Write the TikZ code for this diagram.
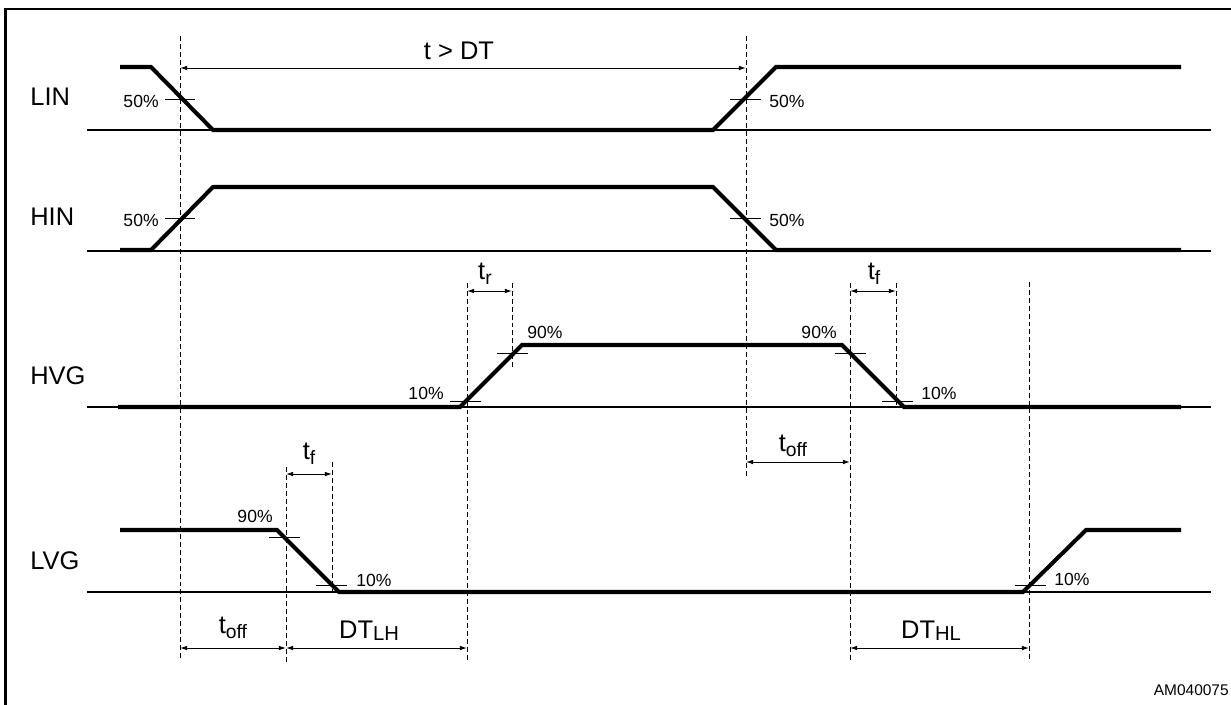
\documentclass[tikz,border=0pt]{standalone}
\usepackage{fontspec}
\setmainfont{Liberation Sans}
\usetikzlibrary{arrows.meta}

% subscripted time labels
\newcommand{\tsubs}[2]{#1\raisebox{-3pt}{\fontsize{11}{13}\selectfont #2}}
\newcommand{\dtsubs}[2]{#1\raisebox{-1.7pt}{\fontsize{11.5}{13}\selectfont #2}}

\begin{document}
\begin{tikzpicture}[
  x=0.02cm, y=-0.02cm,
  signal/.style={line width=2.3pt, line join=miter},
  axis/.style={line width=0.7pt},
  guide/.style={line width=0.55pt, dash pattern=on 2.8pt off 1.7pt},
  levtick/.style={line width=0.55pt},
  dim/.style={{Latex[length=4pt,width=2.6pt]}-{Latex[length=4pt,width=2.6pt]}, line width=0.55pt},
  signame/.style={font=\fontsize{14.5}{17}\selectfont, inner sep=0pt, anchor=base west},
  pct/.style={font=\fontsize{10}{12}\selectfont, inner sep=0pt},
  tlabel/.style={font=\fontsize{14.5}{17}\selectfont, inner sep=0pt, anchor=base}
]
\useasboundingbox (0,0) rectangle (1231,704);

% Frame
\draw[line width=1.2pt] (5.5,720) -- (5.5,9) -- (1240,9);

% Zero lines
\foreach \y in {130,251,407,592}
  \draw[axis] (87,\y) -- (1211,\y);

% Guide lines
\draw[guide] (180,36) -- (180,660);
\draw[guide] (746,36) -- (746,476);
\draw[guide] (467,283) -- (467,660);
\draw[guide] (512,283) -- (512,368);
\draw[guide] (850,283) -- (850,660);
\draw[guide] (896,283) -- (896,405);
\draw[guide] (286,467) -- (286,662);
\draw[guide] (332,462) -- (332,593);
\draw[guide] (1029,282) -- (1029,660);

% Signals
\draw[signal] (120,67) -- (151,67) -- (213,130) -- (713,130) -- (776,67) -- (1181,67);
\draw[signal] (120,250) -- (151,250) -- (213,187) -- (713,187) -- (776,250) -- (1181,250);
\draw[signal] (118,407) -- (460,407) -- (522,345) -- (842,345) -- (904,407) -- (1181,407);
\draw[signal] (120,530) -- (277,530) -- (339,592) -- (1023,592) -- (1086,530) -- (1181,530);

% Signal names
\node[signame] (lin) at (30,105) {LIN};
\node[signame] (hin) at (30,225) {HIN};
\node[signame] (hvg) at (30,384) {HVG};
\node[signame] (lvg) at (30,569) {LVG};

% Threshold ticks
\draw[levtick] (165,99) -- (195,99);
\draw[levtick] (730,99) -- (761,99);
\draw[levtick] (165,218) -- (195,218);
\draw[levtick] (730,218) -- (761,218);
\draw[levtick] (450,401) -- (481,401);
\draw[levtick] (497,353) -- (528,353);
\draw[levtick] (835,353) -- (866,353);
\draw[levtick] (882,401) -- (913,401);
\draw[levtick] (269,537) -- (300,537);
\draw[levtick] (316,585) -- (347,585);
\draw[levtick] (1015,585) -- (1046,585);

% Threshold labels
\node[pct, anchor=base east] (lin50a) at (159,107) {50\%};
\node[pct, anchor=base west] (lin50b) at (769,107) {50\%};
\node[pct, anchor=base east] (hin50a) at (159,226) {50\%};
\node[pct, anchor=base west] (hin50b) at (769,226) {50\%};
\node[pct, anchor=base east] (hvg10a) at (444,399) {10\%};
\node[pct, anchor=base west] (hvg90a) at (527,338) {90\%};
\node[pct, anchor=base east] (hvg90b) at (837,338) {90\%};
\node[pct, anchor=base west] (hvg10b) at (921,399) {10\%};
\node[pct, anchor=base east] (lvg90) at (273,522) {90\%};
\node[pct, anchor=base west] (lvg10a) at (356,586) {10\%};
\node[pct, anchor=base west] (lvg10b) at (1054,585) {10\%};

% Timing arrows
\draw[dim] (180,68) -- (746,68);
\draw[dim] (467,291) -- (512,291);
\draw[dim] (850,291) -- (896,291);
\draw[dim] (746,462) -- (850,462);
\draw[dim] (286,474) -- (332,474);
\draw[dim] (180,648) -- (286,648);
\draw[dim] (286,648) -- (467,648);
\draw[dim] (850,648) -- (1029,648);

% Timing labels
\node[tlabel] (tdt) at (459,59) {t > DT};
\node[tlabel] (tr) at (485,279) {\tsubs{t}{r}};
\node[tlabel] (tfh) at (874,279) {\tsubs{t}{f}};
\node[tlabel] (toffh) at (793,451) {\tsubs{t}{off}};
\node[tlabel] (tfl) at (309,459) {\tsubs{t}{f}};
\node[tlabel] (toffl) at (233,633) {\tsubs{t}{off}};
\node[tlabel] (dtlh) at (369,638) {\dtsubs{DT}{LH}};
\node[tlabel] (dthl) at (931,638) {\dtsubs{DT}{HL}};

% Figure code
\node[font=\fontsize{8.8}{10}\selectfont, inner sep=0pt, anchor=base east] (code) at (1229,695) {AM040075};

\end{tikzpicture}
\end{document}
